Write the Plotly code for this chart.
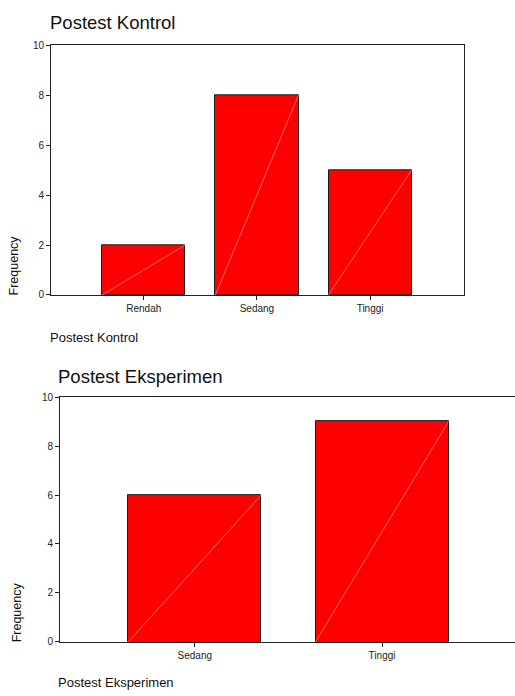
import plotly.graph_objects as go

# Data
kontrol_categories = ["Rendah", "Sedang", "Tinggi"]
kontrol_values = [2, 8, 5]
eksperimen_categories = ["Sedang", "Tinggi"]
eksperimen_values = [6, 9]
y_ticks = [0, 2, 4, 6, 8, 10]

W, H = 515, 696
FONT = "Liberation Sans, Arial, sans-serif"

def px_x(x):
    return x / W

def px_y(y):
    return 1 - y / H

fig = go.Figure()

def add_panel(cats, vals, xa, ya, width):
    xs = list(range(len(cats)))
    fig.add_trace(go.Bar(
        x=xs, y=vals, width=width,
        marker=dict(color="#ff0000", line=dict(color="#1a1a1a", width=1)),
        xaxis=xa, yaxis=ya, showlegend=False, hoverinfo="skip"))
    for i, v in zip(xs, vals):
        fig.add_trace(go.Scatter(
            x=[i - width / 2, i + width / 2], y=[0, v], mode="lines",
            line=dict(color="rgba(255,190,190,0.9)", width=0.6),
            xaxis=xa, yaxis=ya, showlegend=False, hoverinfo="skip"))

add_panel(kontrol_categories, kontrol_values, "x", "y", 0.735)
add_panel(eksperimen_categories, eksperimen_values, "x2", "y2", 0.71)

axis_common = dict(showgrid=False, zeroline=False, showline=True,
                   linecolor="#222222", linewidth=1, ticks="outside",
                   ticklen=4, tickcolor="#222222",
                   tickfont=dict(family=FONT, size=10, color="#222222"))

fig.update_layout(
    width=W, height=H, autosize=False,
    margin=dict(l=0, r=0, t=0, b=0),
    paper_bgcolor="white", plot_bgcolor="white",
    bargap=0,
    xaxis=dict(domain=[px_x(51), px_x(464)], range=[-0.82, 2.83],
               tickvals=list(range(len(kontrol_categories))),
               ticktext=kontrol_categories, mirror=True, anchor="y",
               **axis_common),
    yaxis=dict(domain=[px_y(294), px_y(40)], range=[0, 10],
               tickvals=y_ticks, mirror=True, anchor="x", **axis_common),
    xaxis2=dict(domain=[px_x(60), 1.0], range=[-0.72, 1.71],
                tickvals=list(range(len(eksperimen_categories))),
                ticktext=eksperimen_categories, mirror=True, anchor="y2",
                **axis_common),
    yaxis2=dict(domain=[px_y(647), px_y(398)], range=[0, 10],
                tickvals=y_ticks, anchor="x2", **axis_common),
)

def ann(text, x, y, size, xanchor="left", yanchor="middle", angle=0):
    fig.add_annotation(text=text, x=px_x(x), y=px_y(y), xref="paper",
                       yref="paper", showarrow=False, xanchor=xanchor,
                       yanchor=yanchor, textangle=angle,
                       font=dict(family=FONT, size=size, color="#111111"))

ann("Postest Kontrol", 48, 17, 18.5)
ann("Postest Kontrol", 48, 337, 13)
ann("Frequency", 14, 264, 12.5, xanchor="center", angle=-90)

ann("Postest Eksperimen", 56, 377, 18.5)
ann("Postest Eksperimen", 56, 688, 13)
ann("Frequency", 17, 617, 12.5, xanchor="center", angle=-90)

fig.write_html("out.html",
               config={"displayModeBar": False},
               post_script="document.body.style.margin='0';"
                           "document.body.style.overflow='hidden';")
